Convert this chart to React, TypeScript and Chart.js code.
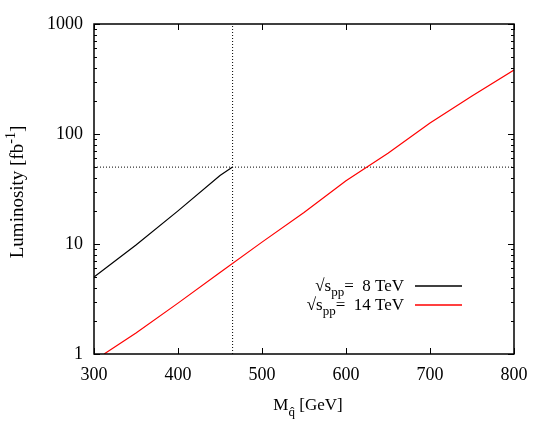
import React, { useEffect, useRef } from "react";
import { Chart, registerables } from "chart.js";

Chart.register(...registerables);

const xTicks = [300, 400, 500, 600, 700, 800];
const yTicks = [1, 10, 100, 1000];

const mass8 = [300, 350, 400, 450, 465];
const lumi8 = [5, 9.8, 20, 42, 50];

const mass14 = [312, 350, 400, 450, 500, 550, 600, 650, 700, 750, 800];
const lumi14 = [1, 1.55, 2.9, 5.5, 10.4, 19.3, 37.5, 67, 126, 221, 382];

const cutMass = 465;
const cutLumi = 50;

const FONT = "'Liberation Serif', 'Times New Roman', serif";

const framePlugin = {
  id: "frame",
  afterDatasetsDraw(chart: any) {
    const { ctx, chartArea: a, scales } = chart;
    const xs = scales.x;
    const ys = scales.y;
    ctx.save();
    ctx.strokeStyle = "#000";
    ctx.lineWidth = 1;
    ctx.beginPath();
    for (const v of xTicks) {
      const px = Math.round(xs.getPixelForValue(v)) + 0.5;
      ctx.moveTo(px, a.bottom);
      ctx.lineTo(px, a.bottom - 6);
      ctx.moveTo(px, a.top);
      ctx.lineTo(px, a.top + 6);
    }
    for (let d = 0; d < 3; d++) {
      for (let m = 1; m <= 10; m++) {
        const v = m * Math.pow(10, d);
        const py = Math.round(ys.getPixelForValue(v)) + 0.5;
        const len = m === 1 || m === 10 ? 6 : 3;
        ctx.moveTo(a.left, py);
        ctx.lineTo(a.left + len, py);
        ctx.moveTo(a.right, py);
        ctx.lineTo(a.right - len, py);
      }
    }
    ctx.stroke();
    ctx.lineWidth = 1.5;
    ctx.strokeRect(a.left, a.top, a.right - a.left, a.bottom - a.top);

    ctx.fillStyle = "#000";
    ctx.textBaseline = "alphabetic";
    // x title: M_{q̂} [GeV]
    ctx.font = `17px ${FONT}`;
    const mW = ctx.measureText("M").width;
    ctx.font = `13px ${FONT}`;
    const qW = ctx.measureText("q̂").width;
    ctx.font = `17px ${FONT}`;
    const gW = ctx.measureText(" [GeV]").width;
    const total = mW + qW + gW;
    const x0 = (a.left + a.right) / 2 - total / 2 + 4;
    const by = 410;
    ctx.textAlign = "left";
    ctx.fillText("M", x0, by);
    ctx.font = `13px ${FONT}`;
    ctx.fillText("q̂", x0 + mW, by + 6);
    ctx.font = `17px ${FONT}`;
    ctx.fillText(" [GeV]", x0 + mW + qW, by);

    // y title rotated
    ctx.save();
    ctx.translate(23, (a.top + a.bottom) / 2 + 3);
    ctx.rotate(-Math.PI / 2);
    ctx.font = `19px ${FONT}`;
    const t1 = "Luminosity [fb";
    const w1 = ctx.measureText(t1).width;
    ctx.font = `14px ${FONT}`;
    const w2 = ctx.measureText("-1").width;
    ctx.font = `19px ${FONT}`;
    const w3 = ctx.measureText("]").width;
    const tw = w1 + w2 + w3;
    const sx = -tw / 2;
    ctx.fillText(t1, sx, 0);
    ctx.font = `14px ${FONT}`;
    ctx.fillText("-1", sx + w1, -8);
    ctx.font = `19px ${FONT}`;
    ctx.fillText("]", sx + w1 + w2, 0);
    ctx.restore();

    // legend
    const rows = [
      { e: "=  8 TeV", color: "#000000", y: 286 },
      { e: "=  14 TeV", color: "#ff0000", y: 305 },
    ];
    const rightEdge = 404;
    for (const r of rows) {
      ctx.fillStyle = "#000";
      ctx.font = `17px ${FONT}`;
      const eW = ctx.measureText(r.e).width;
      ctx.font = `13px ${FONT}`;
      const pW = ctx.measureText("pp").width;
      ctx.font = `17px ${FONT}`;
      const sW = ctx.measureText("√s").width;
      const start = rightEdge - eW - pW - sW;
      const base = r.y + 5;
      ctx.fillText("√s", start, base);
      ctx.font = `13px ${FONT}`;
      ctx.fillText("pp", start + sW, base + 5);
      ctx.font = `17px ${FONT}`;
      ctx.fillText(r.e, start + sW + pW, base);
      ctx.strokeStyle = r.color;
      ctx.lineWidth = 1.5;
      ctx.beginPath();
      ctx.moveTo(415, r.y);
      ctx.lineTo(462, r.y);
      ctx.stroke();
    }
    ctx.restore();
  },
};

export default function App() {
  const ref = useRef<HTMLCanvasElement | null>(null);
  useEffect(() => {
    document.body.style.margin = "0";
    const canvas = ref.current!;
    const chart = new Chart(canvas, {
      type: "line",
      data: {
        datasets: [
          {
            label: "8 TeV",
            data: mass8.map((x, i) => ({ x, y: lumi8[i] })),
            borderColor: "#000",
            borderWidth: 1.2,
            pointRadius: 0,
            fill: false,
          },
          {
            label: "14 TeV",
            data: mass14.map((x, i) => ({ x, y: lumi14[i] })),
            borderColor: "#ff0000",
            borderWidth: 1.2,
            pointRadius: 0,
            fill: false,
          },
          {
            label: "vcut",
            data: [
              { x: cutMass, y: 1 },
              { x: cutMass, y: 1000 },
            ],
            borderColor: "#000",
            borderWidth: 1,
            borderDash: [1, 2],
            pointRadius: 0,
          },
          {
            label: "hcut",
            data: [
              { x: 300, y: cutLumi },
              { x: 800, y: cutLumi },
            ],
            borderColor: "#000",
            borderWidth: 1,
            borderDash: [1, 2],
            pointRadius: 0,
          },
        ],
      },
      options: {
        animation: false,
        responsive: false,
        maintainAspectRatio: false,
        layout: { padding: { top: 24, right: 31, left: 0, bottom: 0 } },
        plugins: { legend: { display: false }, tooltip: { enabled: false } },
        scales: {
          x: {
            type: "linear",
            min: 300,
            max: 800,
            afterBuildTicks: (s: any) => {
              s.ticks = xTicks.map((v) => ({ value: v }));
            },
            afterFit: (s: any) => {
              s.height = 82;
            },
            grid: { display: false, drawTicks: false },
            border: { display: false },
            ticks: {
              padding: 10,
              color: "#000",
              font: { family: FONT, size: 18 },
              maxRotation: 0,
            },
          },
          y: {
            type: "logarithmic",
            min: 1,
            max: 1000,
            afterBuildTicks: (s: any) => {
              s.ticks = yTicks.map((v) => ({ value: v }));
            },
            afterFit: (s: any) => {
              s.width = 94;
            },
            grid: { display: false, drawTicks: false },
            border: { display: false },
            ticks: {
              padding: 11,
              color: "#000",
              font: { family: FONT, size: 18 },
              callback: (v: any) => String(v),
            },
          },
        },
      },
      plugins: [framePlugin],
    });
    return () => chart.destroy();
  }, []);
  return (
    <div style={{ width: 545, height: 436 }}>
      <canvas ref={ref} width={545} height={436} style={{ display: "block" }} />
    </div>
  );
}
